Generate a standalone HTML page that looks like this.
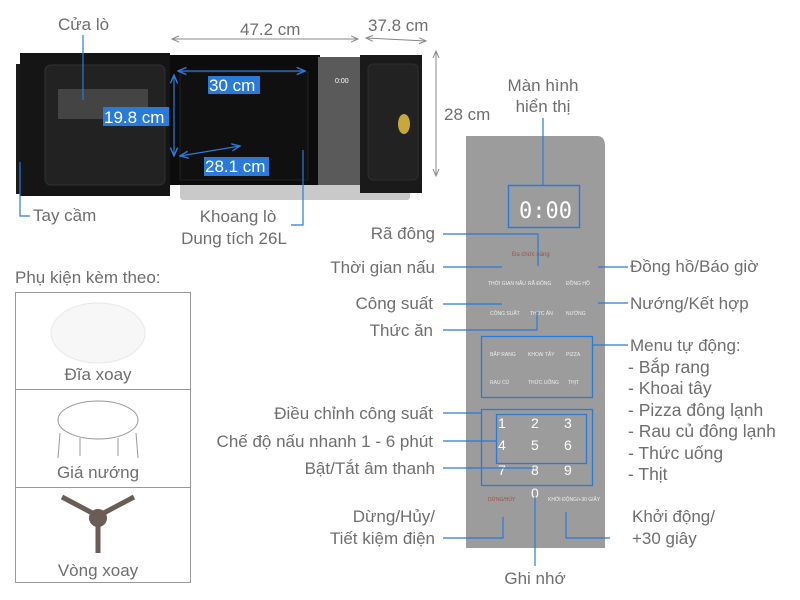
<!DOCTYPE html>
<html><head><meta charset="utf-8"><style>
html,body{margin:0;padding:0;background:#fff;width:800px;height:600px;overflow:hidden}
svg text{font-family:"Liberation Sans",sans-serif;fill:#6e6e6e;font-size:17px}
</style></head><body>
<svg width="800" height="600" viewBox="0 0 800 600" xmlns="http://www.w3.org/2000/svg">
<defs>
<marker id="a" markerWidth="8" markerHeight="8" refX="7" refY="4" orient="auto-start-reverse"><path d="M0,1 L7,4 L0,7" fill="none" stroke="#888" stroke-width="1"/></marker>
<marker id="w" markerWidth="8" markerHeight="8" refX="7" refY="4" orient="auto-start-reverse"><path d="M0,1 L7,4 L0,7" fill="none" stroke="#2a7ad8" stroke-width="1.2"/></marker>
</defs>
<!-- microwave -->
<rect x="180" y="175" width="230" height="25" rx="3" fill="#c9c9c9"/>
<rect x="16" y="64" width="8" height="130" fill="#1a1a1a"/>
<rect x="20" y="53" width="150" height="143" fill="#151515"/>
<rect x="45" y="65" width="120" height="120" rx="6" fill="#222" stroke="#333"/>
<rect x="58" y="89" width="90" height="30" fill="#444"/>
<rect x="170" y="55" width="150" height="130" fill="#0c0c0c"/>
<rect x="180" y="72" width="128" height="108" fill="#101010" stroke="#222"/>
<rect x="318" y="57" width="42" height="128" fill="#5a5a5a"/>
<rect x="360" y="55" width="62" height="138" fill="#1a1a1a"/>
<rect x="368" y="64" width="50" height="116" rx="5" fill="#222" stroke="#2e2e2e"/>
<ellipse cx="404" cy="124" rx="6" ry="10" fill="#c9a83a"/>
<text x="335" y="83" style="font-size:7px;fill:#fff">0:00</text>
<!-- dims -->
<text x="58" y="30">Cửa lò</text>
<line x1="83" y1="35" x2="83" y2="100" stroke="#2a7ad8" stroke-width="1.2"/>
<text x="240" y="35">47.2 cm</text>
<line x1="172" y1="39" x2="358" y2="39" stroke="#888" marker-start="url(#a)" marker-end="url(#a)"/>
<text x="368" y="31">37.8 cm</text>
<line x1="366" y1="38" x2="426" y2="41" stroke="#888" marker-start="url(#a)" marker-end="url(#a)"/>
<text x="444" y="120">28 cm</text>
<line x1="436" y1="51" x2="436" y2="176" stroke="#888" marker-start="url(#a)" marker-end="url(#a)"/>
<line x1="178" y1="71" x2="305" y2="71" stroke="#2a7ad8" stroke-width="1.2" marker-start="url(#w)" marker-end="url(#w)"/>
<rect x="208" y="76" width="52" height="18" fill="#2a7ad8"/><text x="209" y="91" style="fill:#fff">30 cm</text>
<line x1="174" y1="75" x2="174" y2="156" stroke="#2a7ad8" stroke-width="1.2" marker-start="url(#w)" marker-end="url(#w)"/>
<rect x="103" y="107" width="66" height="19" fill="#2a7ad8"/><text x="104" y="123" style="fill:#fff">19.8 cm</text>
<line x1="180" y1="156" x2="240" y2="146" stroke="#2a7ad8" stroke-width="1.2" marker-start="url(#w)" marker-end="url(#w)"/>
<rect x="204" y="157" width="65" height="19" fill="#2a7ad8"/><text x="205" y="172" style="fill:#fff">28.1 cm</text>
<polyline points="20,162 20,216 30,216" fill="none" stroke="#2a7ad8" stroke-width="1.2"/>
<text x="33" y="221">Tay cầm</text>
<polyline points="303,150 303,225 291,225" fill="none" stroke="#2a7ad8" stroke-width="1.2"/>
<text x="238" y="222" text-anchor="middle">Khoang lò</text>
<text x="234" y="244" text-anchor="middle">Dung tích 26L</text>
<!-- accessories -->
<text x="15" y="283">Phụ kiện kèm theo:</text>
<rect x="15.5" y="292.5" width="175" height="290" fill="none" stroke="#999"/>
<line x1="15" y1="389.5" x2="190" y2="389.5" stroke="#999"/>
<line x1="15" y1="487.5" x2="190" y2="487.5" stroke="#999"/>
<ellipse cx="98" cy="333" rx="47" ry="30" fill="#f7f7f7" stroke="#e8e8e8"/>
<text x="98" y="380" text-anchor="middle">Đĩa xoay</text>
<ellipse cx="98" cy="420" rx="40" ry="19" fill="none" stroke="#999"/>
<path d="M60,433 L58,458 M136,433 L138,458 M80,438 L80,456 M118,438 L118,456" stroke="#999" fill="none"/>
<text x="98" y="478" text-anchor="middle">Giá nướng</text>
<path d="M62,497 L98,516 L134,497 M98,516 L98,553" stroke="#6b5d55" stroke-width="5" fill="none"/>
<circle cx="98" cy="518" r="9" fill="#6b5d55"/>
<text x="98" y="576" text-anchor="middle">Vòng xoay</text>
<!-- panel -->
<path d="M466,136 L597,136 Q605,136 605,146 L605,548 L466,548 Z" fill="#9c9c9c"/>
<rect x="508.5" y="185.5" width="71" height="42" fill="none" stroke="#2a7ad8" stroke-width="1.5"/>
<text x="519" y="218" style="font-size:22px;fill:#fff;font-family:'DejaVu Sans Mono',monospace">0:00</text>
<text x="543" y="91" text-anchor="middle">Màn hình</text>
<text x="543" y="112" text-anchor="middle">hiển thị</text>
<line x1="543" y1="118" x2="543" y2="185" stroke="#2a7ad8" stroke-width="1.2"/>
<text x="512" y="256" style="font-size:6px;fill:#a0504a">Đa chức năng</text>
<text x="488" y="285" style="font-size:5px;fill:#eee">THỜI GIAN NẤU</text>
<text x="528" y="285" style="font-size:5px;fill:#eee">RÃ ĐÔNG</text>
<text x="566" y="285" style="font-size:5px;fill:#eee">ĐỒNG HỒ</text>
<text x="490" y="315" style="font-size:5px;fill:#eee">CÔNG SUẤT</text>
<text x="530" y="315" style="font-size:5px;fill:#eee">THỨC ĂN</text>
<text x="566" y="315" style="font-size:5px;fill:#eee">NƯỚNG</text>
<text x="490" y="356" style="font-size:5px;fill:#eee">BẮP RANG</text>
<text x="528" y="356" style="font-size:5px;fill:#eee">KHOAI TÂY</text>
<text x="566" y="356" style="font-size:5px;fill:#eee">PIZZA</text>
<text x="490" y="384" style="font-size:5px;fill:#eee">RAU CỦ</text>
<text x="528" y="384" style="font-size:5px;fill:#eee">THỨC UỐNG</text>
<text x="568" y="384" style="font-size:5px;fill:#eee">THỊT</text>
<text x="498" y="428" style="fill:#fff;font-size:14px">1</text><text x="531" y="428" style="fill:#fff;font-size:14px">2</text><text x="564" y="428" style="fill:#fff;font-size:14px">3</text>
<text x="498" y="450" style="fill:#fff;font-size:14px">4</text><text x="531" y="450" style="fill:#fff;font-size:14px">5</text><text x="564" y="450" style="fill:#fff;font-size:14px">6</text>
<text x="498" y="475" style="fill:#fff;font-size:14px">7</text><text x="531" y="475" style="fill:#fff;font-size:14px">8</text><text x="564" y="475" style="fill:#fff;font-size:14px">9</text>
<text x="531" y="498" style="fill:#fff;font-size:14px">0</text>
<text x="488" y="501" style="font-size:5px;fill:#a0504a">DỪNG/HỦY</text>
<text x="548" y="501" style="font-size:5px;fill:#eee">KHỞI ĐỘNG/+30 GIÂY</text>
<rect x="481.5" y="336.5" width="111" height="61" fill="none" stroke="#2a7ad8" stroke-width="1.3"/>
<rect x="481.5" y="409.5" width="111" height="76" fill="none" stroke="#2a7ad8" stroke-width="1.3"/>
<rect x="496.5" y="414.5" width="90" height="49" fill="none" stroke="#2a7ad8" stroke-width="1.3"/>
<g fill="none" stroke="#2a7ad8" stroke-width="1.2">
<polyline points="443,234 538,234 538,266"/>
<line x1="443" y1="267" x2="502" y2="267"/>
<line x1="443" y1="304" x2="502" y2="304"/>
<polyline points="443,330 537,330 537,312"/>
<line x1="443" y1="413" x2="482" y2="413"/>
<line x1="443" y1="441" x2="496" y2="441"/>
<line x1="443" y1="468" x2="533" y2="468"/>
<polyline points="443,538 503,538 503,517"/>
<line x1="535" y1="497" x2="535" y2="566"/>
<line x1="598" y1="267" x2="628" y2="267"/>
<line x1="598" y1="303" x2="628" y2="303"/>
<line x1="593" y1="345" x2="628" y2="345"/>
<polyline points="566,512 566,538 610,538"/>
</g>
<g text-anchor="end">
<text x="435" y="239">Rã đông</text>
<text x="435" y="273">Thời gian nấu</text>
<text x="433" y="309">Công suất</text>
<text x="433" y="336">Thức ăn</text>
<text x="433" y="419">Điều chỉnh công suất</text>
<text x="433" y="447">Chế độ nấu nhanh 1 - 6 phút</text>
<text x="435" y="474">Bật/Tắt âm thanh</text>
<text x="435" y="522">Dừng/Hủy/</text>
<text x="435" y="544">Tiết kiệm điện</text>
</g>
<text x="535" y="584" text-anchor="middle">Ghi nhớ</text>
<text x="630" y="272">Đồng hồ/Báo giờ</text>
<text x="630" y="309">Nướng/Kết hợp</text>
<text x="630" y="351">Menu tự động:</text>
<g style="font-size:17.5px">
<text x="628" y="373" style="font-size:17.5px">- Bắp rang</text>
<text x="628" y="394" style="font-size:17.5px">- Khoai tây</text>
<text x="628" y="416" style="font-size:17.5px">- Pizza đông lạnh</text>
<text x="628" y="437" style="font-size:17.5px">- Rau củ đông lạnh</text>
<text x="628" y="459" style="font-size:17.5px">- Thức uống</text>
<text x="628" y="480" style="font-size:17.5px">- Thịt</text>
</g>
<text x="632" y="522">Khởi động/</text>
<text x="632" y="544">+30 giây</text>
</svg>
</body></html>
